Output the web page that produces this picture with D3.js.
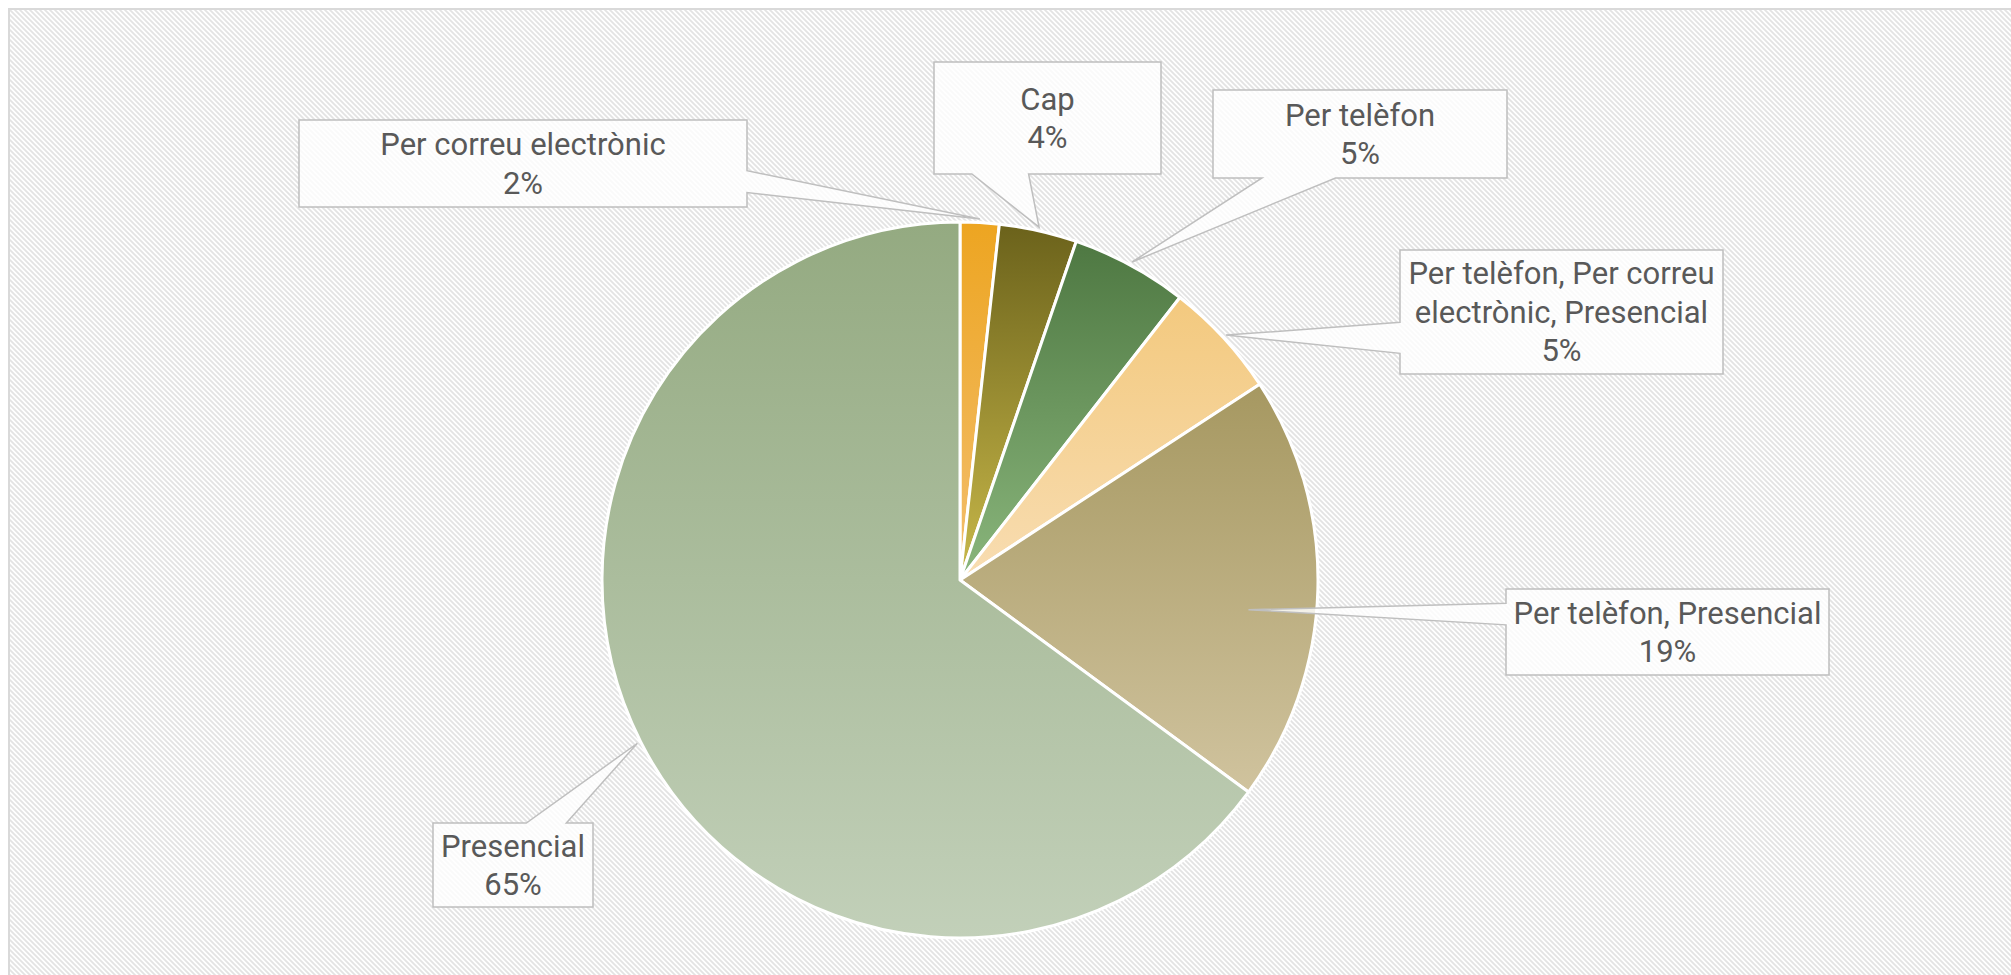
<!DOCTYPE html>
<html>
<head>
<meta charset="utf-8">
<script src="https://cdn.jsdelivr.net/npm/d3@7"></script>
<style>
    body { margin: 0; background: #fff; }
    svg { display: block; }
</style>
</head>
<body>
<svg id="chart" width="2011" height="975"></svg>
<script>
/* global d3:true */

// data
const categories = [
    'Per correu electrònic',
    'Cap',
    'Per telèfon',
    'Per telèfon, Per correu electrònic, Presencial',
    'Per telèfon, Presencial',
    'Presencial',
];
const counts = [1, 2, 3, 3, 11, 37];

// gradient colours (top, bottom) per slice
const colorsTop = ['#eda521', '#6b621b', '#4e7842', '#f3c97e', '#a69861', '#94aa81'];
const colorsBottom = ['#f3bf6f', '#c9b94a', '#8ab67c', '#f8ddb2', '#d0c39e', '#c2d0b9'];

// label callout boxes
const labelBoxes = [
    { x: 299, y: 120, w: 448, h: 87 },
    { x: 934, y: 62, w: 227, h: 112 },
    { x: 1213, y: 90, w: 294, h: 88 },
    { x: 1400, y: 250, w: 323, h: 124 },
    { x: 1506, y: 589, w: 323, h: 86 },
    { x: 433, y: 823, w: 160, h: 84 },
];
// where the callout wedge points (radius factor, angle shift)
const tips = [
    { r: 1.01, da: 0 },
    { r: 1.01, da: 0 },
    { r: 1.01, da: 0 },
    { r: 1.01, da: 0 },
    { r: 0.81, da: 0.075 },
    { r: 1.01, da: 0 },
];

const cx = 960;
const cy = 580;
const radius = 358;
const fontSize = 31;
const lineH = 38.5;

const svg = d3.select('#chart');
const defs = svg.append('defs');

// striped background
const pat = defs.append('pattern')
    .attr('id', 'stripes')
    .attr('patternUnits', 'userSpaceOnUse')
    .attr('width', 5)
    .attr('height', 5);
pat.append('rect').attr('width', 5).attr('height', 5).attr('fill', '#ffffff');
pat.append('path')
    .attr('d', 'M-1,-1 L6,6 M-6,-1 L1,6 M4,-1 L11,6')
    .attr('stroke', '#e3e3e3')
    .attr('stroke-width', 1.8);

svg.append('rect')
    .attr('x', 9)
    .attr('y', 9)
    .attr('width', 2200)
    .attr('height', 1200)
    .attr('fill', 'url(#stripes)')
    .attr('stroke', '#d9d9d9')
    .attr('stroke-width', 2);

// slice gradients
categories.forEach((c, i) => {
    const g = defs.append('linearGradient')
        .attr('id', `grad${i}`)
        .attr('x1', 0).attr('y1', 0)
        .attr('x2', 0).attr('y2', 1);
    g.append('stop').attr('offset', '0%').attr('stop-color', colorsTop[i]);
    g.append('stop').attr('offset', '100%').attr('stop-color', colorsBottom[i]);
});

const pie = d3.pie().sort(null).value((d) => d.value);
const arcs = pie(categories.map((c, i) => ({ name: c, value: counts[i], i })));
const total = d3.sum(counts);

const arc = d3.arc().innerRadius(0).outerRadius(radius);

const pieG = svg.append('g').attr('transform', `translate(${cx},${cy})`);
pieG.selectAll('path.slice')
    .data(arcs)
    .enter()
    .append('path')
    .attr('class', 'slice')
    .attr('d', arc)
    .attr('fill', (d) => `url(#grad${d.data.i})`)
    .attr('stroke', '#ffffff')
    .attr('stroke-width', 3)
    .attr('stroke-linejoin', 'round');

// callout shape, same geometry as the office wedgeRectCallout
function callout(b, tx, ty) {
    const dx = tx - (b.x + b.w / 2);
    const dy = ty - (b.y + b.h / 2);
    const dq = dx * b.h / b.w;
    const r = b.x + b.w;
    const btm = b.y + b.h;
    if (Math.abs(dy) > Math.abs(dq)) {
        const x1 = b.x + b.w * (dx > 0 ? 7 : 2) / 12;
        const x2 = b.x + b.w * (dx > 0 ? 10 : 5) / 12;
        if (dy > 0) {
            return `M${b.x},${b.y}H${r}V${btm}H${x2}L${tx},${ty}L${x1},${btm}H${b.x}Z`;
        }
        return `M${b.x},${b.y}H${x1}L${tx},${ty}L${x2},${b.y}H${r}V${btm}H${b.x}Z`;
    }
    const y1 = b.y + b.h * (dy > 0 ? 7 : 2) / 12;
    const y2 = b.y + b.h * (dy > 0 ? 10 : 5) / 12;
    if (dx > 0) {
        return `M${b.x},${b.y}H${r}V${y1}L${tx},${ty}L${r},${y2}V${btm}H${b.x}Z`;
    }
    return `M${b.x},${b.y}H${r}V${btm}H${b.x}V${y2}L${tx},${ty}L${b.x},${y1}Z`;
}

const labels = svg.append('g')
    .selectAll('g.label')
    .data(arcs)
    .enter()
    .append('g')
    .attr('class', 'label');

labels.append('path')
    .attr('d', (d) => {
        const t = tips[d.data.i];
        const a = (d.startAngle + d.endAngle) / 2 + t.da;
        const tx = cx + Math.sin(a) * radius * t.r;
        const ty = cy - Math.cos(a) * radius * t.r;
        return callout(labelBoxes[d.data.i], tx, ty);
    })
    .attr('fill', 'rgba(255,255,255,0.82)')
    .attr('stroke', '#bfbfbf')
    .attr('stroke-width', 1.5);

labels.each(function (d) {
    const b = labelBoxes[d.data.i];
    const g = d3.select(this);
    const text = g.append('text')
        .attr('font-family', 'Roboto, sans-serif')
        .attr('font-size', fontSize)
        .attr('fill', '#595959')
        .attr('text-anchor', 'middle');

    // simple word wrap to the box width
    const words = d.data.name.split(' ');
    const lines = [];
    let line = '';
    const probe = text.append('tspan');
    words.forEach((w) => {
        const test = line ? `${line} ${w}` : w;
        probe.text(test);
        if (line && probe.node().getComputedTextLength() > b.w - 6) {
            lines.push(line);
            line = w;
        } else {
            line = test;
        }
    });
    lines.push(line);
    probe.remove();
    lines.push(`${Math.round(d.data.value / total * 100)}%`);

    const mid = b.y + b.h / 2;
    text.selectAll('tspan')
        .data(lines)
        .enter()
        .append('tspan')
        .attr('x', b.x + b.w / 2)
        .attr('y', (l, k) => mid + (k - (lines.length - 1) / 2) * lineH + fontSize * 0.35)
        .text((l) => l);
});
</script>
</body>
</html>
